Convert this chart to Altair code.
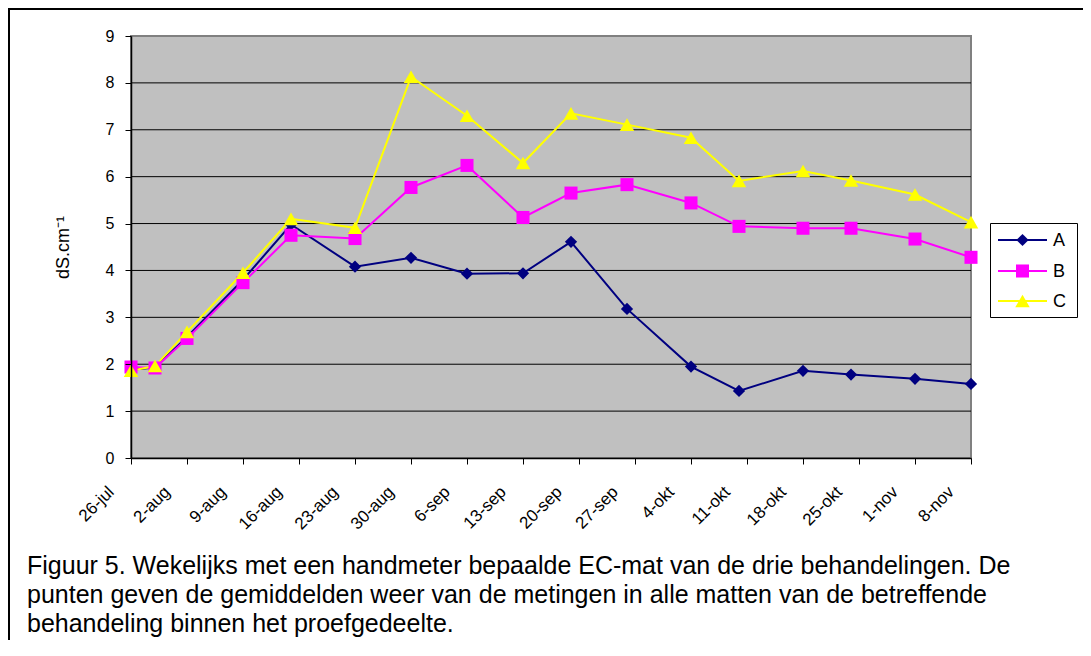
import json
import altair as alt
import pandas as pd

# ---------------- data ----------------
dates = ["2004-07-26", "2004-07-29", "2004-08-02", "2004-08-09", "2004-08-15",
         "2004-08-23", "2004-08-30", "2004-09-06", "2004-09-13", "2004-09-19",
         "2004-09-26", "2004-10-04", "2004-10-10", "2004-10-18", "2004-10-24",
         "2004-11-01", "2004-11-08"]
A = [1.88, 1.93, 2.58, 3.80, 4.98, 4.08, 4.27, 3.93, 3.94, 4.61, 3.18, 1.95, 1.43, 1.86, 1.78, 1.69, 1.58]
B = [1.94, 1.92, 2.55, 3.74, 4.75, 4.68, 5.77, 6.24, 5.13, 5.65, 5.83, 5.44, 4.94, 4.90, 4.90, 4.67, 4.28]
C = [1.86, 1.96, 2.69, 3.95, 5.10, 4.91, 8.13, 7.30, 6.29, 7.35, 7.11, 6.83, 5.91, 6.12, 5.92, 5.62, 5.03]

series_names = ["A", "B", "C"]
series_colors = ["#000080", "#FF00FF", "#FFFF00"]
series_shapes = ["diamond", "square", "triangle-up"]
series_sizes = [150, 170, 210]

tick_dates = ["2004-07-26", "2004-08-02", "2004-08-09", "2004-08-16", "2004-08-23",
              "2004-08-30", "2004-09-06", "2004-09-13", "2004-09-20", "2004-09-27",
              "2004-10-04", "2004-10-11", "2004-10-18", "2004-10-25", "2004-11-01",
              "2004-11-08"]
tick_labels = ["26-jul", "2-aug", "9-aug", "16-aug", "23-aug", "30-aug", "6-sep", "13-sep",
               "20-sep", "27-sep", "4-okt", "11-okt", "18-okt", "25-okt", "1-nov", "8-nov"]
y_ticks = [0, 1, 2, 3, 4, 5, 6, 7, 8, 9]
y_grid = [1, 2, 3, 4, 5, 6, 7, 8]
y_title = "dS.cm\u207b\u00b9"

caption_lines = [
    "Figuur 5. Wekelijks met een handmeter bepaalde EC-mat van de drie behandelingen. De",
    "punten geven de gemiddelden weer van de metingen in alle matten van de betreffende",
    "behandeling binnen het proefgedeelte.",
]

# ---------------- tables ----------------
start = pd.Timestamp(dates[0])
day = [(pd.Timestamp(d) - start).days for d in dates]
tick_days = [(pd.Timestamp(d) - start).days for d in tick_dates]

rows = []
for name, vals in zip(series_names, [A, B, C]):
    for d, dd, v in zip(dates, day, vals):
        rows.append({"series": name, "date": d, "day": dd, "value": v})
df = pd.DataFrame(rows)

FONT = "Liberation Sans"

label_expr = f"{json.dumps(tick_labels)}[indexof({json.dumps(tick_days)}, datum.value)]"

x_enc = alt.X(
    "day:Q",
    scale=alt.Scale(domain=[tick_days[0], tick_days[-1]], nice=False, zero=False),
    axis=alt.Axis(values=tick_days, labelExpr=label_expr, title=None, grid=False,
                  labelAngle=315, labelAlign="right", labelBaseline="middle",
                  labelOffset=-20, labelPadding=25, labelFontSize=17, zindex=1),
)
y_enc = alt.Y(
    "value:Q",
    scale=alt.Scale(domain=[0, 9], nice=False),
    axis=alt.Axis(values=y_ticks, title=y_title, grid=False, labelPadding=11,
                  titleX=-63, titleY=211, titleAngle=270, titleAlign="center",
                  titleBaseline="alphabetic", titleFontSize=18, titleFontWeight="normal",
                  labelFontSize=16, zindex=1),
)

# outer frame
frame = alt.Chart(pd.DataFrame({"k": [0]})).mark_rect(
    filled=False, color="black", strokeWidth=2
).encode(x=alt.value(-122), x2=alt.value(975), y=alt.value(-27), y2=alt.value(700))

# plot-area background (through the data scales)
bg = alt.Chart(pd.DataFrame({"x0": [tick_days[0]], "x1": [tick_days[-1]], "y0": [0], "y1": [9]})).mark_rect(
    fill="#C0C0C0", stroke="#808080", strokeWidth=2
).encode(x=alt.X("x0:Q"), x2="x1:Q", y=alt.Y("y0:Q"), y2="y1:Q")

grid = alt.Chart(pd.DataFrame({"g": y_grid})).mark_rule(color="black", strokeWidth=1).encode(
    y=alt.Y("g:Q")
)

lines = alt.Chart(df).mark_line(strokeWidth=2).encode(
    x=x_enc, y=y_enc,
    color=alt.Color("series:N", scale=alt.Scale(domain=series_names, range=series_colors), legend=None),
)

point_layers = []
for name, col, shp, sz in zip(series_names, series_colors, series_shapes, series_sizes):
    point_layers.append(
        alt.Chart(df).transform_filter(alt.datum.series == name).mark_point(
            filled=True, shape=shp, size=sz, color=col, opacity=1
        ).encode(x=x_enc, y=y_enc)
    )

# manual legend (box + line/marker/label per series)
legend_layers = [
    alt.Chart(pd.DataFrame({"k": [0]})).mark_rect(fill="white", stroke="black", strokeWidth=1).encode(
        x=alt.value(859.5), x2=alt.value(946.5), y=alt.value(187.5), y2=alt.value(281.5)
    )
]
legend_rows_y = [204, 235, 265]
for name, col, shp, sz, yy in zip(series_names, series_colors, series_shapes, series_sizes, legend_rows_y):
    ldf = pd.DataFrame({"series": [name]})
    legend_layers.append(
        alt.Chart(ldf).mark_rule(color=col, strokeWidth=2).encode(
            x=alt.value(867), x2=alt.value(916), y=alt.value(yy)
        )
    )
    legend_layers.append(
        alt.Chart(ldf).mark_point(filled=True, shape=shp, size=sz, color=col, opacity=1).encode(
            x=alt.value(891.5), y=alt.value(yy)
        )
    )
    legend_layers.append(
        alt.Chart(ldf).mark_text(align="left", baseline="middle", fontSize=18, font=FONT, color="black").encode(
            text="series:N", x=alt.value(922), y=alt.value(yy + 1)
        )
    )

caption = alt.Chart(pd.DataFrame({"caption": ["\n".join(caption_lines)]})).mark_text(
    align="left", baseline="alphabetic", fontSize=25, font=FONT, lineBreak="\n",
    lineHeight=29, color="black"
).encode(text="caption:N", x=alt.value(-104), y=alt.value(538))

chart = alt.layer(frame, bg, grid, lines, *point_layers, *legend_layers, caption).properties(
    width=840, height=422,
    autosize=alt.AutoSizeParams(type="none"),
    padding={"left": 123, "top": 28, "right": 112, "bottom": 182},
    background="white",
).configure_view(
    stroke="transparent"
).configure_axis(
    labelFont=FONT, labelColor="black", tickColor="black", tickSize=6, tickWidth=1,
    domainColor="black", domainWidth=1.5, titleFont=FONT, titleFontWeight="normal",
    titleColor="black",
)

chart.save("out.html", embed_options={"renderer": "svg", "actions": False})
